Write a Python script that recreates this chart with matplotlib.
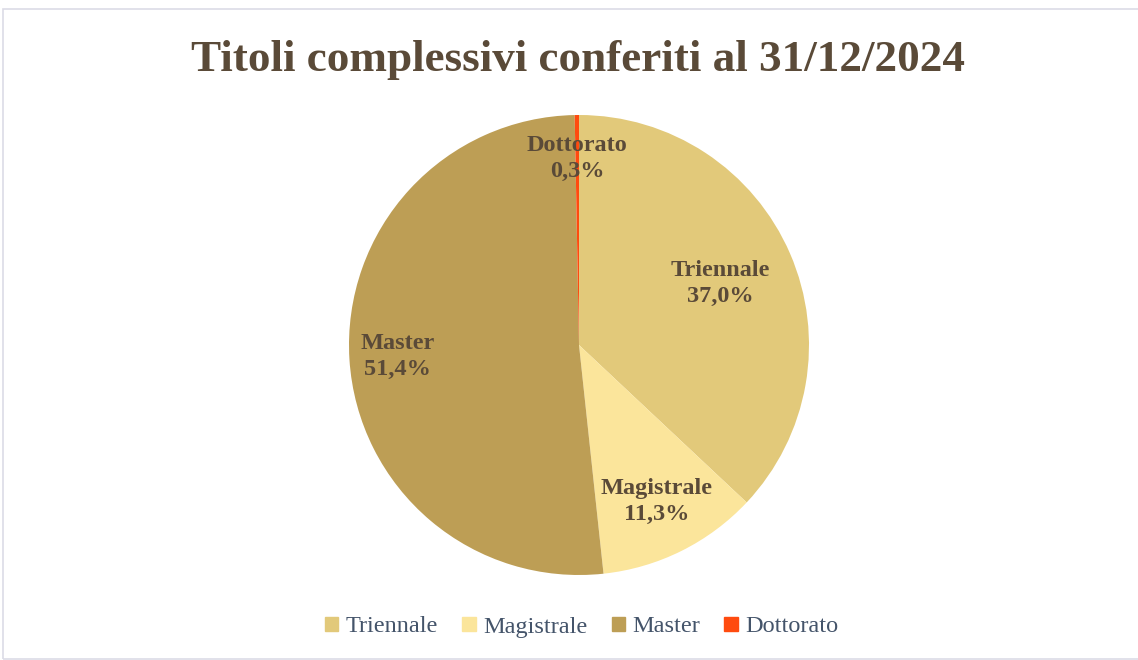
import numpy as np
import matplotlib.pyplot as plt
from matplotlib.patches import Rectangle

# data
categories = ['Triennale', 'Magistrale', 'Master', 'Dottorato']
shares = [37.0, 11.3, 51.4, 0.3]
colors = ['#E2C97A', '#FBE59B', '#BD9E55', '#FF4B0F']
label_dist = [0.67, 0.76, 0.79, 0.81]

title = 'Titoli complessivi conferiti al 31/12/2024'
brown = '#5A4A38'
serif = ['Liberation Serif', 'DejaVu Serif']

fig = plt.figure(figsize=(11.38, 6.6), dpi=100)
fig.patches.append(Rectangle((3 / 1138, 0.002), 1.2, 1 - 9 / 660 - 0.002,
                             transform=fig.transFigure, fill=False,
                             edgecolor='#DCDCE6', linewidth=1.2))

ax = fig.add_axes([(579 - 230) / 1138, (315 - 230) / 660, 460 / 1138, 460 / 660])
wedges, _ = ax.pie(shares, colors=colors, startangle=90, counterclock=False,
                   radius=1.0, wedgeprops=dict(linewidth=0))
ax.set_xlim(-1, 1)
ax.set_ylim(-1, 1)
ax.set_aspect('equal')
ax.axis('off')

for w, name, val, d in zip(wedges, categories, shares, label_dist):
    ang = np.deg2rad((w.theta1 + w.theta2) / 2)
    txt = name + '\n' + f'{val:.1f}'.replace('.', ',') + '%'
    ax.text(d * np.cos(ang), d * np.sin(ang), txt, ha='center', va='center',
            fontsize=17.5, fontweight='semibold', color=brown, family=serif,
            linespacing=1.3)

fig.text(0.508, 1 - 60 / 660, title, ha='center', va='center', fontsize=32.5,
         fontweight='bold', color=brown, family=serif)

handles = [Rectangle((0, 0), 1, 1, color=c) for c in colors]
fig.legend(handles, categories, loc='center', bbox_to_anchor=(0.511, 1 - 627 / 660),
           ncol=4, frameon=False, handlelength=0.55, handleheight=0.55,
           handletextpad=0.3, columnspacing=1.0,
           prop=dict(family=serif, size=17.5), labelcolor='#44546A')

fig.savefig('out.png', dpi=100)
